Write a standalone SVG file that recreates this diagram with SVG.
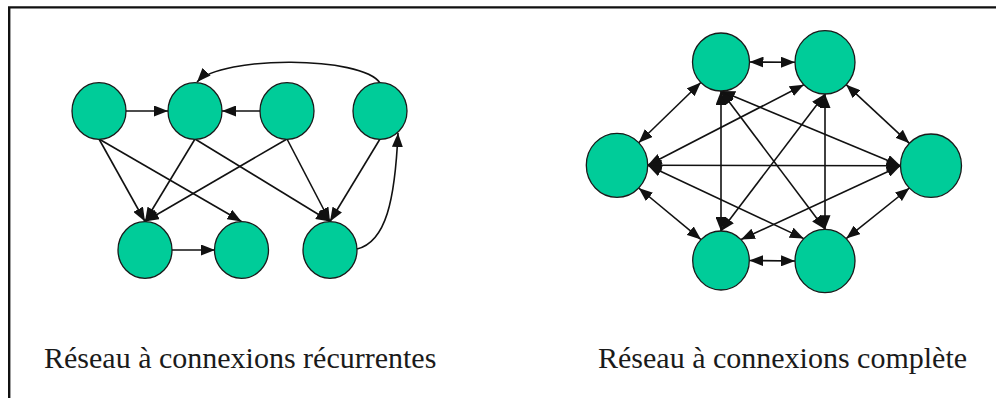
<svg xmlns="http://www.w3.org/2000/svg" width="996" height="398" viewBox="0 0 996 398">
  <style>
    .node { fill: #00CC99; stroke: #1a1a1a; stroke-width: 1.3; }
    .edge { fill: none; stroke: #111; stroke-width: 1.6; marker-end: url(#head); }
    .both { marker-start: url(#head); }
    .label { font-family: "Liberation Serif", "Times New Roman", serif; font-size: 30px; fill: #1a1a1a; }
    .frame { fill: none; stroke: #111; stroke-width: 2.4; }
  </style>
  <defs>
    <marker id="head" viewBox="0 0 14 11" refX="14" refY="5.5" markerWidth="14" markerHeight="11" markerUnits="userSpaceOnUse" orient="auto-start-reverse">
      <path d="M0,0 L14,5.5 L0,11 Z" fill="#111"/>
    </marker>
  </defs>

  <rect width="996" height="398" fill="#fff"/>
  <path class="frame" d="M9.2,398 V7.4 H996"/>

  <!-- Recurrent network: connectors -->
  <g id="recurrent-edges">
    <line class="edge" x1="126" y1="111" x2="168" y2="111"/>
    <line class="edge" x1="260" y1="111" x2="222" y2="111"/>
    <path class="edge" d="M380,83 C362,56 222,55 197,82"/>
    <line class="edge" x1="99" y1="139" x2="145" y2="221.5"/>
    <line class="edge" x1="99" y1="139" x2="241.5" y2="221.5"/>
    <line class="edge" x1="195" y1="139" x2="145" y2="221.5"/>
    <line class="edge" x1="195" y1="139" x2="330" y2="221.5"/>
    <line class="edge" x1="287" y1="139" x2="145" y2="221.5"/>
    <line class="edge" x1="287" y1="139" x2="330" y2="221.5"/>
    <line class="edge" x1="380" y1="139" x2="330" y2="221.5"/>
    <line class="edge" x1="172" y1="250" x2="215" y2="250"/>
    <path class="edge" d="M357,249 C386,242 395,200 398,133"/>
  </g>

  <!-- Recurrent network: nodes -->
  <g id="r-a"><ellipse class="node" cx="99" cy="111" rx="27" ry="28.3"/></g>
  <g id="r-b"><ellipse class="node" cx="195" cy="111" rx="27" ry="28.3"/></g>
  <g id="r-c"><ellipse class="node" cx="287" cy="111" rx="27" ry="28.3"/></g>
  <g id="r-d"><ellipse class="node" cx="380" cy="111" rx="27" ry="28.3"/></g>
  <g id="r-e"><ellipse class="node" cx="145" cy="250" rx="27" ry="28.3"/></g>
  <g id="r-f"><ellipse class="node" cx="241.5" cy="250" rx="27" ry="28.3"/></g>
  <g id="r-g"><ellipse class="node" cx="330" cy="250" rx="27" ry="28.3"/></g>

  <!-- Fully connected network: connectors (all bidirectional) -->
  <g id="complete-edges">
    <line class="edge both" x1="749.5" y1="62" x2="795" y2="62.3"/>
    <line class="edge both" x1="700.8" y1="82.5" x2="638.7" y2="142.7"/>
    <line class="edge both" x1="721" y1="91" x2="900.5" y2="165.7"/>
    <line class="edge both" x1="721" y1="91" x2="721" y2="231"/>
    <line class="edge both" x1="721" y1="91" x2="825" y2="229.3"/>
    <line class="edge both" x1="803.8" y1="84.7" x2="647.7" y2="165.3"/>
    <line class="edge both" x1="846.2" y1="84.7" x2="909.4" y2="143.3"/>
    <line class="edge both" x1="825" y1="94" x2="721" y2="231"/>
    <line class="edge both" x1="825" y1="94" x2="825" y2="229.3"/>
    <line class="edge both" x1="647.7" y1="165.3" x2="900.5" y2="165.7"/>
    <line class="edge both" x1="638.7" y1="188" x2="701" y2="239.6"/>
    <line class="edge both" x1="647.7" y1="165.3" x2="803.8" y2="238.6"/>
    <line class="edge both" x1="900.5" y1="165.7" x2="741" y2="239.6"/>
    <line class="edge both" x1="909.4" y1="188" x2="846.2" y2="238.6"/>
    <line class="edge both" x1="749.3" y1="260.5" x2="795" y2="261"/>
  </g>

  <!-- Fully connected network: nodes -->
  <g id="c-top-left"><ellipse class="node" cx="721" cy="62" rx="28.5" ry="29"/></g>
  <g id="c-top-right"><ellipse class="node" cx="825" cy="62.3" rx="30" ry="31.7"/></g>
  <g id="c-left"><ellipse class="node" cx="617" cy="165.3" rx="30.7" ry="32"/></g>
  <g id="c-right"><ellipse class="node" cx="931" cy="165.7" rx="30.5" ry="31.7"/></g>
  <g id="c-bottom-left"><ellipse class="node" cx="721" cy="260.5" rx="28.3" ry="29.5"/></g>
  <g id="c-bottom-right"><ellipse class="node" cx="825" cy="261" rx="30" ry="31.7"/></g>

  <!-- Captions -->
  <g id="captions">
    <text class="label" x="44" y="368">Réseau à connexions récurrentes</text>
    <text class="label" x="598" y="368">Réseau à connexions complète</text>
  </g>
</svg>
